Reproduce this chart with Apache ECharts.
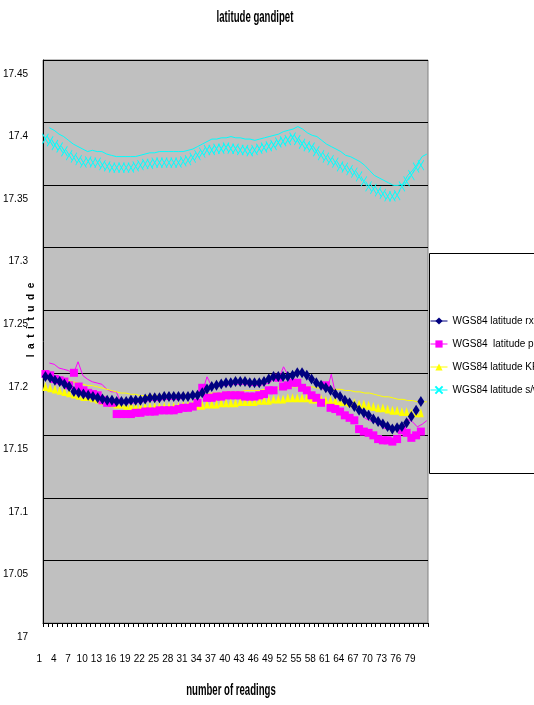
<!DOCTYPE html>
<html>
<head>
<meta charset="utf-8">
<title>latitude gandipet</title>
<script src="https://cdn.jsdelivr.net/npm/echarts@6/dist/echarts.min.js"></script>
<style>
  html, body { margin: 0; padding: 0; background: #fff; }
  #chart { width: 534px; height: 705px; }
</style>
</head>
<body>
<div id="chart"></div>
<script>
// Reading numbers shown on the category axis (81 slots, 80 readings)
const readings = Array.from({ length: 81 }, (_, i) => String(i + 1));

const yTicks = { min: 17, max: 17.45, step: 0.05 };

const seriesNames = [
  'WGS84 latitude rx',
  'WGS84  latitude prg',
  'WGS84 latitude KF',
  'WGS84 latitude s/w'
];

// receiver latitude
const latRx = [
  17.197, 17.196, 17.194, 17.193, 17.191, 17.189, 17.185, 17.184, 17.183, 17.182,
  17.181, 17.180, 17.179, 17.178, 17.178, 17.177, 17.177, 17.177, 17.178, 17.178,
  17.178, 17.179, 17.180, 17.180, 17.180, 17.181, 17.181, 17.181, 17.181, 17.181,
  17.181, 17.182, 17.182, 17.184, 17.187, 17.189, 17.190, 17.191, 17.192, 17.192,
  17.193, 17.193, 17.193, 17.192, 17.192, 17.192, 17.193, 17.195, 17.197, 17.197,
  17.197, 17.197, 17.198, 17.200, 17.200, 17.198, 17.195, 17.192, 17.190, 17.188,
  17.186, 17.183, 17.181, 17.178, 17.176, 17.173, 17.170, 17.168, 17.166, 17.163,
  17.161, 17.159, 17.157, 17.155, 17.156, 17.157, 17.160, 17.165, 17.170, 17.177
];

// program latitude
const latPrg = [
  17.199, 17.198, 17.195, 17.194, 17.193, 17.190, 17.200, 17.189, 17.186, 17.184,
  17.183, 17.182, 17.178, 17.176, 17.176, 17.167, 17.167, 17.167, 17.167, 17.168,
  17.168, 17.169, 17.169, 17.169, 17.170, 17.170, 17.170, 17.170, 17.171, 17.172,
  17.172, 17.173, 17.176, 17.188, 17.180, 17.180, 17.181, 17.181, 17.182, 17.182,
  17.182, 17.182, 17.181, 17.181, 17.181, 17.182, 17.183, 17.186, 17.186, 17.196,
  17.189, 17.190, 17.192, 17.192, 17.188, 17.186, 17.182, 17.180, 17.176, 17.190,
  17.172, 17.171, 17.169, 17.166, 17.164, 17.162, 17.155, 17.153, 17.152, 17.150,
  17.147, 17.146, 17.146, 17.145, 17.147, 17.154, 17.152, 17.148, 17.150, 17.153
];

// Kalman filter latitude
const latKf = [
  17.189, 17.188, 17.187, 17.186, 17.185, 17.184, 17.183, 17.182, 17.181, 17.181,
  17.180, 17.179, 17.178, 17.177, 17.176, 17.175, 17.175, 17.174, 17.174, 17.173,
  17.173, 17.173, 17.173, 17.173, 17.173, 17.173, 17.173, 17.173, 17.173, 17.174,
  17.174, 17.174, 17.174, 17.174, 17.175, 17.175, 17.175, 17.176, 17.176, 17.176,
  17.176, 17.177, 17.177, 17.177, 17.177, 17.178, 17.178, 17.178, 17.179, 17.179,
  17.179, 17.180, 17.180, 17.180, 17.180, 17.180, 17.179, 17.179, 17.179, 17.178,
  17.178, 17.178, 17.177, 17.177, 17.176, 17.176, 17.175, 17.175, 17.174, 17.173,
  17.172, 17.172, 17.171, 17.170, 17.170, 17.169, 17.169, 17.168, 17.168, 17.168
];

// software latitude
const latSw = [
  17.387, 17.385, 17.382, 17.380, 17.377, 17.374, 17.372, 17.370, 17.368, 17.369,
  17.368, 17.368, 17.366, 17.365, 17.364, 17.364, 17.364, 17.364, 17.364, 17.365,
  17.366, 17.367, 17.367, 17.368, 17.368, 17.368, 17.368, 17.368, 17.368, 17.369,
  17.370, 17.372, 17.374, 17.376, 17.378, 17.378, 17.379, 17.379, 17.380, 17.379,
  17.379, 17.378, 17.378, 17.377, 17.378, 17.379, 17.380, 17.381, 17.382, 17.384,
  17.385, 17.386, 17.388, 17.386, 17.383, 17.381, 17.380, 17.377, 17.374, 17.372,
  17.370, 17.368, 17.365, 17.364, 17.362, 17.360, 17.357, 17.353, 17.349, 17.347,
  17.345, 17.343, 17.341, 17.341, 17.342, 17.349, 17.353, 17.358, 17.364, 17.366
];

const colors = ['#000080', '#FF00FF', '#FFFF00', '#00FFFF'];
const sans = "'Liberation Sans', Arial, sans-serif";

const chart = echarts.init(document.getElementById('chart'), null, { renderer: 'canvas' });

const baseY = {
  type: 'value',
  min: yTicks.min,
  max: yTicks.max,
  interval: yTicks.step
};

function markerSeries(name, data, color, symbol, size, extra) {
  return Object.assign({
    name: name,
    type: 'line',
    data: data,
    xAxisIndex: 0,
    yAxisIndex: 0,
    symbol: symbol,
    symbolSize: size,
    showAllSymbol: true,
    lineStyle: { opacity: 0, width: 0 },
    itemStyle: { color: color },
    z: 3
  }, extra || {});
}

// thin trace of a series, drawn on the companion grid
function traceSeries(name, data, color) {
  return {
    name: name,
    type: 'line',
    data: data,
    xAxisIndex: 1,
    yAxisIndex: 1,
    showSymbol: false,
    symbol: 'none',
    lineStyle: { color: color, width: 1 },
    z: 2
  };
}

// condensed bold captions
function caption(text, x, y) {
  return {
    type: 'text',
    x: x, y: y,
    scaleX: 0.6,
    style: {
      text: text,
      font: 'bold 16px ' + sans,
      fill: '#000',
      align: 'center',
      verticalAlign: 'middle'
    }
  };
}

const option = {
  animation: false,
  backgroundColor: '#ffffff',
  grid: [
    {
      left: 41, top: 60, width: 387, height: 563,
      show: true, backgroundColor: '#C0C0C0',
      borderColor: '#808080', borderWidth: 1
    },
    { left: 47, top: 49, width: 387, height: 563, show: false }
  ],
  xAxis: [
    {
      type: 'category',
      gridIndex: 0,
      data: readings,
      boundaryGap: true,
      axisLine: { lineStyle: { color: '#000', width: 1 } },
      axisTick: { show: true, interval: 0, length: 4, lineStyle: { color: '#000' } },
      axisLabel: {
        interval: 2,
        margin: 31,
        padding: [0, 12, 0, 0],
        fontFamily: sans,
        fontSize: 10,
        color: '#000'
      },
      splitLine: { show: false }
    },
    {
      type: 'category',
      gridIndex: 1,
      data: readings,
      boundaryGap: true,
      show: false
    }
  ],
  yAxis: [
    Object.assign({}, baseY, {
      gridIndex: 0,
      axisLine: { show: true, lineStyle: { color: '#000', width: 1 } },
      axisTick: { show: false },
      axisLabel: {
        margin: 15,
        verticalAlign: 'top',
        lineHeight: 28,
        fontFamily: sans,
        fontSize: 10,
        color: '#000',
        formatter: v => String(+v.toFixed(2))
      },
      splitLine: { show: true, lineStyle: { color: '#000', width: 1 } }
    }),
    Object.assign({}, baseY, { gridIndex: 1, show: false, splitLine: { show: false } })
  ],
  legend: {
    orient: 'vertical',
    left: 425,
    top: 311,
    itemWidth: 17,
    itemHeight: 9,
    itemGap: 13,
    textStyle: { fontFamily: sans, fontSize: 10, color: '#000' },
    data: seriesNames.map((n, i) => ({
      name: n,
      lineStyle: { color: colors[i], width: 1, opacity: 1 }
    }))
  },
  graphic: {
    elements: [
      {
        type: 'rect',
        left: 429, top: 253,
        shape: { width: 130, height: 220 },
        style: { fill: '#ffffff', stroke: '#000000', lineWidth: 1 },
        z: 1
      },
      caption('latitude gandipet', 255, 18),
      caption('number of readings', 231, 691),
      {
        type: 'text',
        x: 31, y: 320,
        rotation: Math.PI / 2,
        style: {
          text: 'l  a  t  i  t  u  d  e',
          font: 'bold 10px ' + sans,
          fill: '#000',
          align: 'center',
          verticalAlign: 'middle'
        }
      }
    ]
  },
  series: [
    traceSeries('prg trace', latPrg, colors[1]),
    traceSeries('KF trace', latKf, colors[2]),
    traceSeries('s/w trace', latSw, colors[3]),
    markerSeries(seriesNames[3], latSw, colors[3], 'path://M0,0L6,10M6,0L0,10', [6, 10], {
      itemStyle: { color: colors[3], borderColor: colors[3], borderWidth: 1 }
    }),
    markerSeries(seriesNames[2], latKf, colors[2], 'triangle', [6, 9]),
    markerSeries(seriesNames[1], latPrg, colors[1], 'rect', [8, 8]),
    markerSeries(seriesNames[0], latRx, colors[0], 'diamond', [7, 11])
  ]
};

chart.setOption(option);
</script>
</body>
</html>
